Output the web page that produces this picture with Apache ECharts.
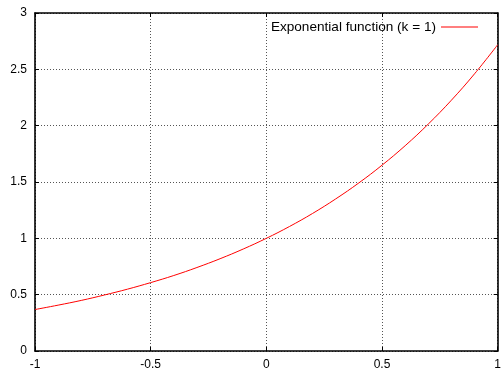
<!DOCTYPE html>
<html><head><meta charset="utf-8">
<script src="https://cdn.jsdelivr.net/npm/echarts@6/dist/echarts.min.js"></script>
<style>html,body{margin:0;padding:0;background:#fff}#c{width:504px;height:371px}</style>
</head><body><div id="c"></div>
<script>
const xValues = [-1,-0.9,-0.8,-0.7,-0.6,-0.5,-0.4,-0.3,-0.2,-0.1,0,0.1,0.2,0.3,0.4,0.5,0.6,0.7,0.8,0.9,1];
const yValues = [0.368,0.407,0.449,0.497,0.549,0.607,0.670,0.741,0.819,0.905,1.000,1.105,1.221,1.350,1.492,1.649,1.822,2.014,2.226,2.460,2.718];
const seriesName = 'Exponential function (k = 1)';
const FONT = 'Liberation Sans, Arial, sans-serif';

const chart = echarts.init(document.getElementById('c'), null, {renderer:'canvas'});
const gridLine = {show:true, lineStyle:{color:'#555', type:[1,2], width:1}};
const frameLine = {show:true, onZero:false, lineStyle:{color:'#000', width:1.6}};
const tickIn = {show:true, inside:true, length:4, lineStyle:{color:'#000', width:1}};
chart.setOption({
  animation:false,
  grid:{left:35, top:13, right:4, bottom:20, containLabel:false},
  legend:{
    data:[{name:seriesName, icon:'rect'}],
    right:21, top:15, align:'right', itemWidth:37, itemHeight:1.2, itemGap:8,
    textStyle:{fontFamily:FONT, fontSize:13.6, color:'#000', padding:[0,0,0,0]}
  },
  xAxis:[
    {type:'value', min:-1, max:1, interval:0.5, position:'bottom',
     axisLine:frameLine, axisTick:tickIn, splitLine:gridLine,
     axisLabel:{fontFamily:FONT, fontSize:12, color:'#000', margin:8,
       formatter:v=>String(v)}},
    {type:'value', min:-1, max:1, interval:0.5, position:'top',
     axisLine:frameLine, axisTick:tickIn, splitLine:{show:false}, axisLabel:{show:false}}
  ],
  yAxis:[
    {type:'value', min:0, max:3, interval:0.5, position:'left',
     axisLine:frameLine, axisTick:tickIn, splitLine:gridLine,
     axisLabel:{fontFamily:FONT, fontSize:12, color:'#000', margin:8}},
    {type:'value', min:0, max:3, interval:0.5, position:'right',
     axisLine:frameLine, axisTick:tickIn, splitLine:{show:false}, axisLabel:{show:false}}
  ],
  series:[{
    name:seriesName, type:'line', xAxisIndex:0, yAxisIndex:0,
    data:xValues.map((x,i)=>[x,yValues[i]]),
    showSymbol:false, smooth:0.4,
    lineStyle:{color:'#ff0000', width:1}, itemStyle:{color:'#ff0000'}
  }]
});
</script></body></html>
